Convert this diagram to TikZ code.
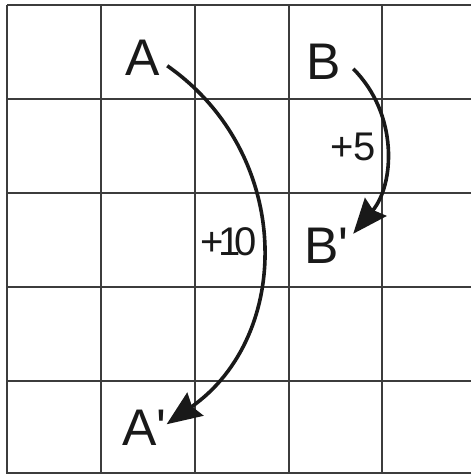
\documentclass[tikz,border=0pt]{standalone}
\usepackage{fontspec}
\newfontfamily\lblfont{Liberation Sans}
\usepackage{tikz}
\usetikzlibrary{arrows.meta,positioning,calc}
\definecolor{lineGray}{RGB}{60,60,60}
\definecolor{inkBlack}{RGB}{25,25,25}
\tikzset{
  gridLine/.style  = {draw=lineGray, line width=2.2pt},
  moveArrow/.style = {-{Stealth[length=35pt,width=28pt,inset=4pt]}, line width=3.6pt,
                      draw=inkBlack},
  ptLabel/.style   = {inner sep=0pt, anchor=base west, text=inkBlack,
                      font=\lblfont\fontsize{51.5}{52}\selectfont},
  stepLabel/.style = {inner sep=0pt, anchor=base west, text=inkBlack,
                      font=\lblfont\fontsize{40}{40}\selectfont},
}

\begin{document}
\begin{tikzpicture}[x=1pt,y=-1pt]
  \useasboundingbox (0,0) rectangle (471,474);
  \begin{scope}
  \clip (0,0) rectangle (471,474);
  \foreach \x in {7,101,195,289,382}{\draw[gridLine](\x,5)--(\x,474);}
  \foreach \y in {5,99,193,287,381,473}{\draw[gridLine](7,\y)--(471,\y);}
  \end{scope}
  \node[ptLabel](A) at (125,75){A};
  \node[ptLabel](Ap) at (122,445){A\textquotesingle};
  \node[ptLabel](B) at (306,79){B};
  \node[ptLabel](Bp) at (304,263){B\textquotesingle};
  \node[stepLabel](ten) at (200,255){\addfontfeature{LetterSpace=-14}+10};
  \node[stepLabel](five) at (330,160){+5};
  \draw[moveArrow]([xshift=7.5pt,yshift=-8.5pt]A.east)to[out=-35,in=35,looseness=1.1]
      ([yshift=3pt]Ap.east);
  \draw[moveArrow]([xshift=12.5pt,yshift=-7.5pt]B.east)to[out=-45,in=50,looseness=1]
      ([xshift=4.6pt,yshift=11.5pt]Bp.east);
\end{tikzpicture}
\end{document}
